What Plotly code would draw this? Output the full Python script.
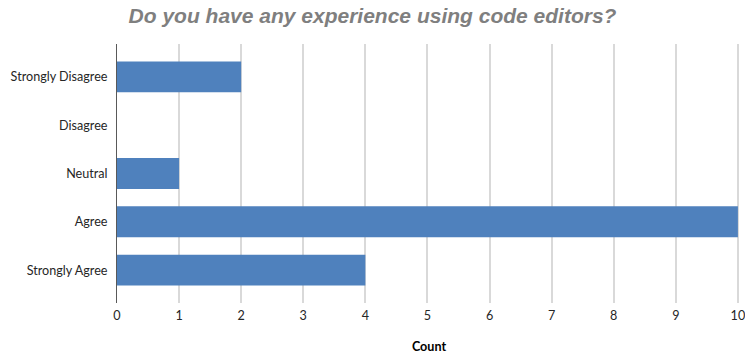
import plotly.graph_objects as go

categories = ["Strongly Agree", "Agree", "Neutral", "Disagree", "Strongly Disagree"]
counts = [4, 10, 1, 0, 2]
x_ticks = list(range(0, 11))

positions = list(range(len(categories)))

fig = go.Figure(
    go.Bar(
        x=counts,
        y=positions,
        orientation="h",
        width=0.64,
        marker=dict(color="#4F81BD", line=dict(width=0)),
        hoverinfo="x+y",
    )
)

fig.update_layout(
    width=745,
    height=358,
    margin=dict(l=117, r=4, t=44, b=55, autoexpand=False),
    paper_bgcolor="white",
    plot_bgcolor="white",
    showlegend=False,
    title=dict(
        text="<b><i>Do you have any experience using code editors?</i></b>",
        x=0.5,
        xanchor="center",
        xref="container",
        y=0.955,
        yanchor="middle",
        font=dict(family="Liberation Sans, Arial", size=21, color="#7f7f7f"),
    ),
    font=dict(family="Lato, sans-serif", size=12.6, color="#262626"),
)

fig.update_xaxes(
    range=[0, 10.05],
    tickvals=x_ticks,
    ticktext=[str(v) for v in x_ticks],
    showgrid=True,
    gridcolor="#d9d9d9",
    gridwidth=1.5,
    zeroline=False,
    showline=False,
    ticks="",
    ticklabelstandoff=3,
    ticklabeloverflow="allow",
    automargin=False,
    title=dict(text="<b>Count</b>", font=dict(size=12.6, color="#000000"), standoff=20),
)

fig.update_yaxes(
    range=[-0.68, 4.68],
    tickvals=positions,
    ticktext=categories,
    showgrid=False,
    zeroline=False,
    showline=True,
    linecolor="#595959",
    linewidth=1,
    ticks="",
    ticklabelstandoff=6,
    automargin=False,
)

fig.write_html("out.html")
